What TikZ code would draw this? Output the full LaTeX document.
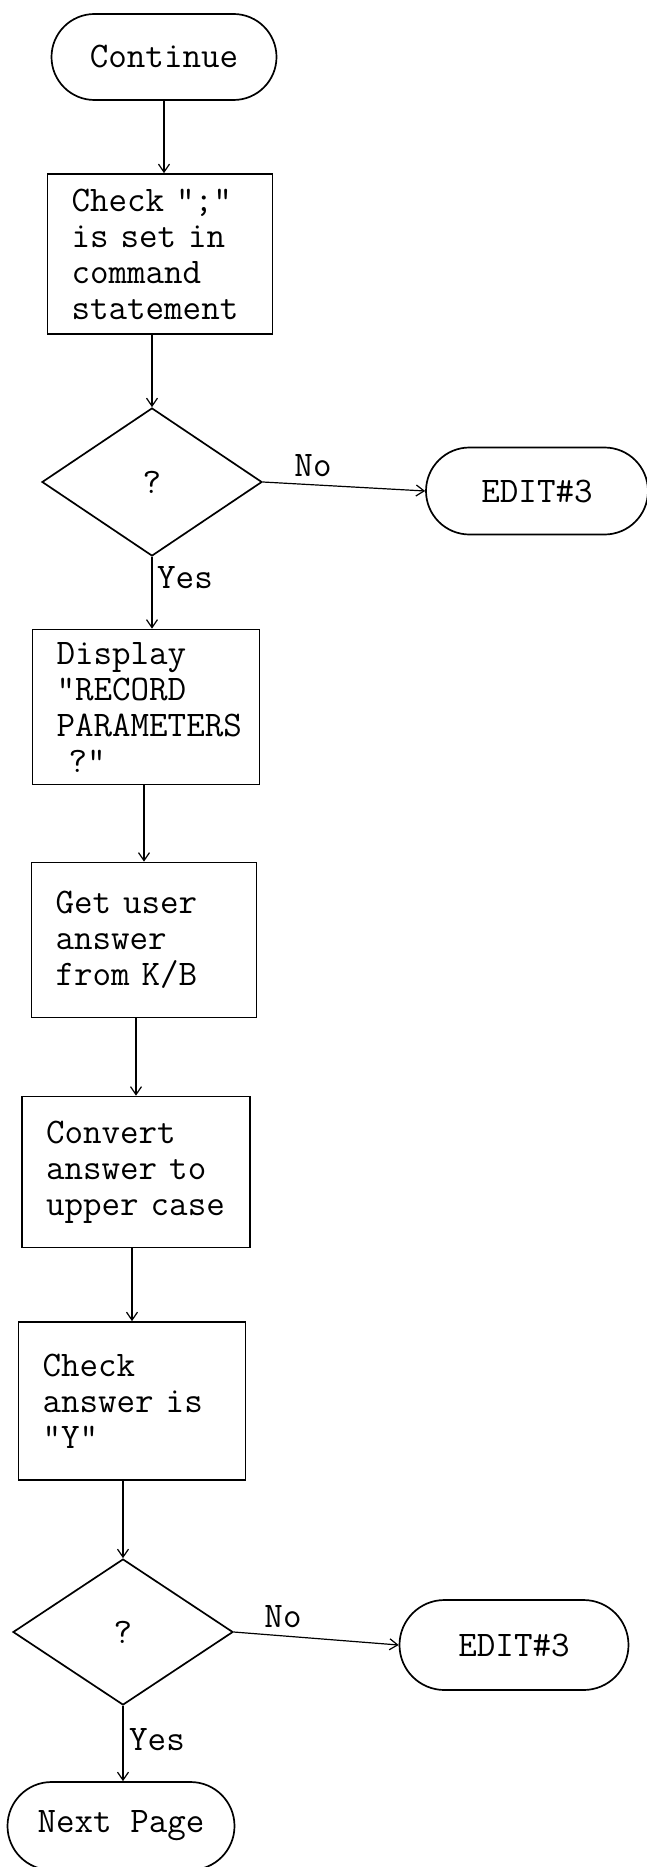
\documentclass[tikz,border=0pt]{standalone}
\usetikzlibrary{shapes.geometric,shapes.misc,arrows.meta}
\begin{document}
\begin{tikzpicture}[x=1pt,y=-1pt]
\tikzset{
  ink/.style={line width=1.7pt, draw=black},
  txt/.style={font=\ttfamily\fontsize{36}{36}\selectfont},
  term/.style={ink, txt, rounded rectangle, inner sep=0pt},
  procbox/.style={ink, txt, rectangle, inner xsep=24pt, inner ysep=0pt, align=left},
  decide/.style={ink, txt, diamond, inner sep=0pt},
  flow/.style={line width=1.2pt, -{Straight Barb[length=8pt,width=11pt,line width=1.2pt]}},
  lbl/.style={txt, inner sep=0pt},
}
\fill[white] (0,0) rectangle (647,1867);
\useasboundingbox (0,0) rectangle (647,1867);

% main column
\node[term, minimum width=225pt, minimum height=86pt] (cont) at (164,57) {Continue};
\node[procbox, text width=177pt, minimum height=160pt] (chk1) at (160,254)
  {Check ";"\\is set in\\command\\statement};
\node[decide, minimum width=220pt, minimum height=148pt] (dec1) at (152,482) {?};
\node[term, minimum width=222pt, minimum height=87pt] (edit1) at (537,491) {EDIT\#3};
\node[procbox, text width=179pt, minimum height=155pt] (disp) at (146,707)
  {Display\\"RECORD\\PARAMETERS\\\ ?"};
\node[procbox, text width=177pt, minimum height=155pt] (getu) at (144,940)
  {Get user\\answer\\from K/B};
\node[procbox, text width=180pt, minimum height=151pt] (conv) at (136,1172)
  {Convert\\answer to\\upper case};
\node[procbox, text width=179pt, minimum height=158pt] (chk2) at (132,1401)
  {Check\\answer is\\"Y"};
\node[decide, minimum width=220pt, minimum height=146pt] (dec2) at (123,1632) {?};
\node[term, minimum width=229pt, minimum height=90pt] (edit2) at (514,1645) {EDIT\#3};
\node[term, minimum width=227pt, minimum height=88pt] (next) at (121,1826) {Next Page};

% connectors
\draw[flow] (cont.south) -- (cont.south |- chk1.north);
\draw[flow] (dec1.north |- chk1.south) -- (dec1.north);
\draw[flow] (dec1.east) -- (edit1.west);
\draw[flow] (dec1.south) -- (dec1.south |- disp.north);
\draw[flow] (getu.north |- disp.south) -- (getu.north);
\draw[flow] (conv.north |- getu.south) -- (conv.north);
\draw[flow] (chk2.north |- conv.south) -- (chk2.north);
\draw[flow] (dec2.north |- chk2.south) -- (dec2.north);
\draw[flow] (dec2.east) -- (edit2.west);
\draw[flow] (dec2.south) -- (dec2.south |- next.north);

% branch labels
\node[lbl] (no1) at (313,466) {No};
\node[lbl] (yes1) at (185,578) {Yes};
\node[lbl] (no2) at (283,1617) {No};
\node[lbl] (yes2) at (157,1740) {Yes};
\end{tikzpicture}
\end{document}
